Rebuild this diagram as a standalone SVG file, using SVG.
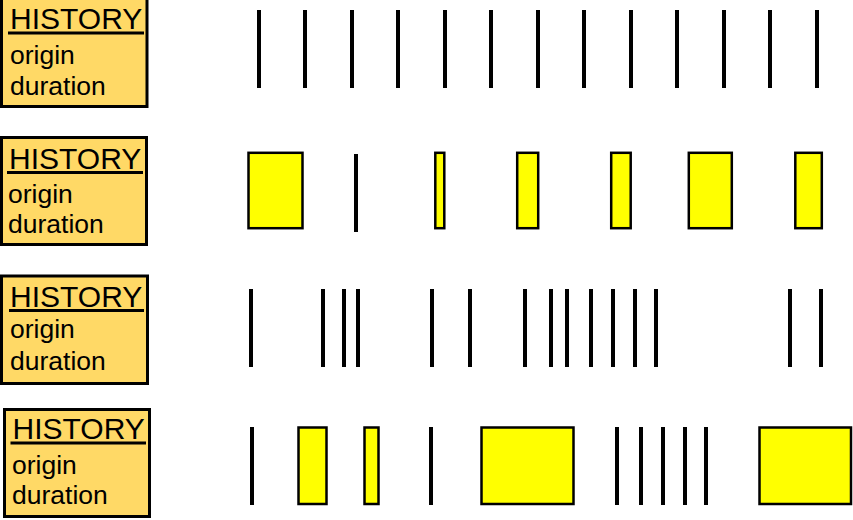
<svg xmlns="http://www.w3.org/2000/svg" width="853" height="520" viewBox="0 0 853 520">
<style>
.box{fill:#FFD966;stroke:#000;stroke-width:3}
.h{font-family:"Liberation Sans",Arial,sans-serif;font-size:30px;fill:#000}
.t{font-family:"Liberation Sans",Arial,sans-serif;font-size:26.5px;fill:#000}
.ul{stroke:#000;stroke-width:3}
.ev line{stroke:#000;stroke-width:4}
.ev rect{fill:#FFFF00;stroke:#000;stroke-width:2.5}
</style>
<rect width="853" height="520" fill="#fff"/>
<g id="label1">
<rect class="box" x="1.5" y="-1.5" width="145.5" height="108"/>
<text class="h" x="10" y="29">HISTORY</text>
<line class="ul" x1="8" y1="33" x2="144" y2="33"/>
<text class="t" x="10" y="64">origin</text>
<text class="t" x="10" y="95">duration</text>
</g>
<g id="label2">
<rect class="box" x="1.5" y="137.5" width="145" height="107"/>
<text class="h" x="9" y="169">HISTORY</text>
<line class="ul" x1="7" y1="172.5" x2="143" y2="172.5"/>
<text class="t" x="8" y="203">origin</text>
<text class="t" x="8" y="233">duration</text>
</g>
<g id="label3">
<rect class="box" x="1.5" y="276" width="146" height="107.5"/>
<text class="h" x="10" y="307">HISTORY</text>
<line class="ul" x1="9" y1="310.5" x2="144" y2="310.5"/>
<text class="t" x="10" y="338">origin</text>
<text class="t" x="10" y="370">duration</text>
</g>
<g id="label4">
<rect class="box" x="4.5" y="409.5" width="145" height="107"/>
<text class="h" x="12.5" y="439">HISTORY</text>
<line class="ul" x1="10.5" y1="443" x2="146" y2="443"/>
<text class="t" x="12" y="474">origin</text>
<text class="t" x="12" y="504">duration</text>
</g>
<g id="row1" class="ev">
<line x1="259" y1="10" x2="259" y2="88"/>
<line x1="305" y1="10" x2="305" y2="88"/>
<line x1="352" y1="10" x2="352" y2="88"/>
<line x1="398" y1="10" x2="398" y2="88"/>
<line x1="445" y1="10" x2="445" y2="88"/>
<line x1="491" y1="10" x2="491" y2="88"/>
<line x1="538" y1="10" x2="538" y2="88"/>
<line x1="584" y1="10" x2="584" y2="88"/>
<line x1="631" y1="10" x2="631" y2="88"/>
<line x1="677" y1="10" x2="677" y2="88"/>
<line x1="724" y1="10" x2="724" y2="88"/>
<line x1="770" y1="10" x2="770" y2="88"/>
<line x1="817" y1="10" x2="817" y2="88"/>
</g>
<g id="row2" class="ev">
<rect x="248.5" y="152.8" width="54" height="75.4"/>
<line x1="356" y1="154" x2="356" y2="232"/>
<rect x="435.3" y="152.8" width="9" height="75.4"/>
<rect x="517.2" y="152.8" width="21" height="75.4"/>
<rect x="611.2" y="152.8" width="19.5" height="75.4"/>
<rect x="688.8" y="152.8" width="43" height="75.4"/>
<rect x="795.3" y="152.8" width="26.5" height="75.4"/>
</g>
<g id="row3" class="ev">
<line x1="251" y1="289" x2="251" y2="367"/>
<line x1="323" y1="289" x2="323" y2="367"/>
<line x1="344" y1="289" x2="344" y2="367"/>
<line x1="358" y1="289" x2="358" y2="367"/>
<line x1="432" y1="289" x2="432" y2="367"/>
<line x1="470" y1="289" x2="470" y2="367"/>
<line x1="525" y1="289" x2="525" y2="367"/>
<line x1="551" y1="289" x2="551" y2="367"/>
<line x1="567" y1="289" x2="567" y2="367"/>
<line x1="591" y1="289" x2="591" y2="367"/>
<line x1="613" y1="289" x2="613" y2="367"/>
<line x1="635" y1="289" x2="635" y2="367"/>
<line x1="656" y1="289" x2="656" y2="367"/>
<line x1="790" y1="289" x2="790" y2="367"/>
<line x1="821" y1="289" x2="821" y2="367"/>
</g>
<g id="row4" class="ev">
<line x1="252" y1="427" x2="252" y2="505"/>
<rect x="298.5" y="427.5" width="28" height="76.5"/>
<rect x="364.5" y="427.5" width="14" height="76.5"/>
<line x1="431" y1="427" x2="431" y2="505"/>
<rect x="481.5" y="427.5" width="92" height="76.5"/>
<line x1="617" y1="427" x2="617" y2="505"/>
<line x1="641" y1="427" x2="641" y2="505"/>
<line x1="663" y1="427" x2="663" y2="505"/>
<line x1="685" y1="427" x2="685" y2="505"/>
<line x1="706" y1="427" x2="706" y2="505"/>
<rect x="759.5" y="427.5" width="91.5" height="76.5"/>
</g>
</svg>
